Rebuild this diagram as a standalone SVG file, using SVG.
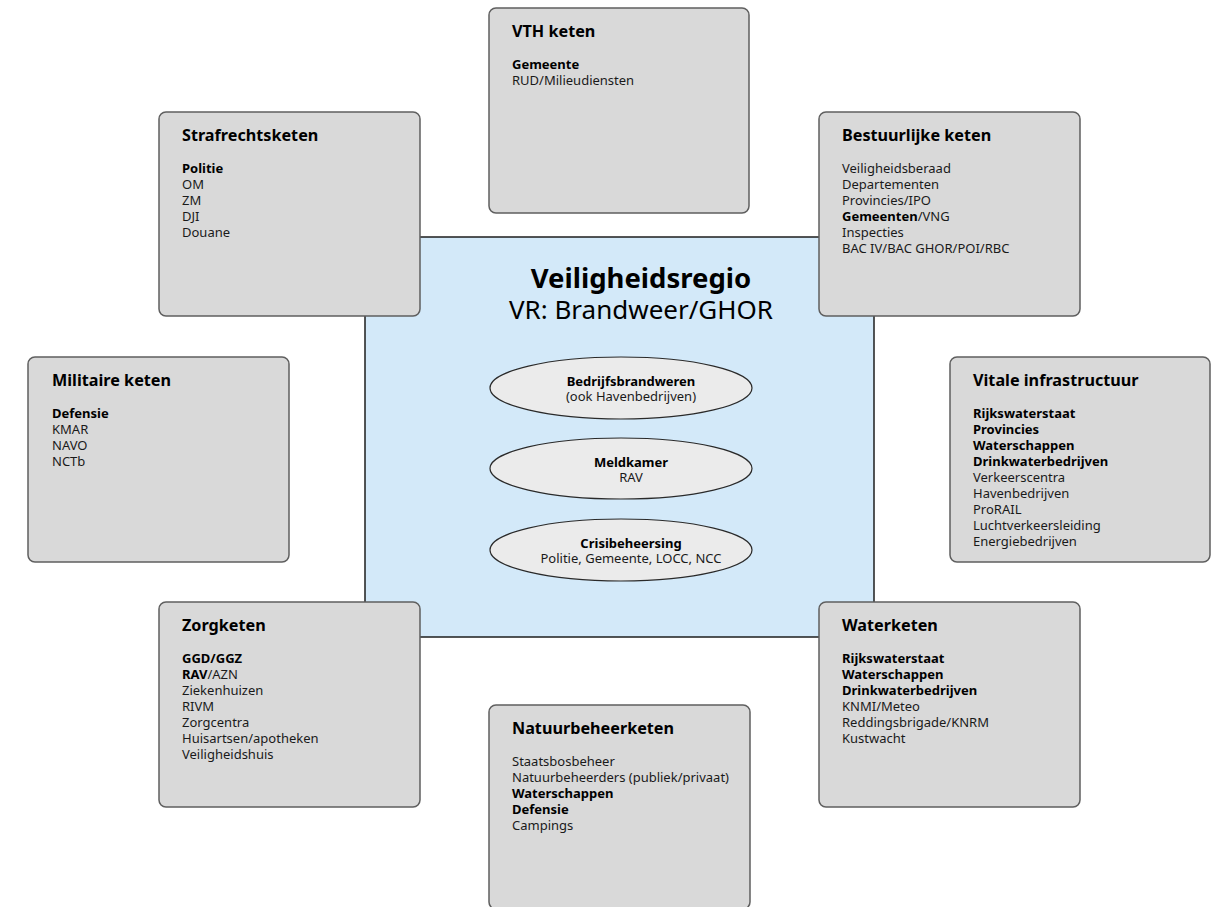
<svg xmlns="http://www.w3.org/2000/svg" width="1214" height="907" viewBox="0 0 1214 907">
<style>
.box{fill:#d9d9d9;stroke:#5f5f5f;stroke-width:1.5}
.center{fill:#d3e9f9;stroke:#1e1e1e;stroke-width:1.5}
.ell{fill:#ebebeb;stroke:#2a2a2a;stroke-width:1.2}
text{font-family:"Noto Sans","Open Sans","DejaVu Sans",sans-serif;fill:#1a1a1a}
.t{font-size:16.2px;font-weight:bold;fill:#000}
.i{font-size:13px}
.b{font-weight:bold;fill:#000}
.e{font-size:13px;text-anchor:middle}
.big{text-anchor:middle;fill:#000}
</style>
<rect width="1214" height="907" fill="#ffffff"/>
<g id="veiligheidsregio">
<rect class="center" x="365" y="237" width="509" height="400"/>
<text class="big" x="641" y="288" font-weight="bold" font-size="27.5">Veiligheidsregio</text>
<text class="big" x="641" y="319" font-size="26">VR: Brandweer/GHOR</text>
</g>
<g id="bedrijfsbrandweren">
<ellipse class="ell" cx="621" cy="388" rx="131" ry="31"/>
<text class="e" x="631" y="386"><tspan class="b">Bedrijfsbrandweren</tspan><tspan x="631" dy="15">(ook Havenbedrijven)</tspan></text>
</g>
<g id="meldkamer">
<ellipse class="ell" cx="621" cy="468.5" rx="131" ry="30.5"/>
<text class="e" x="631" y="467"><tspan class="b">Meldkamer</tspan><tspan x="631" dy="15">RAV</tspan></text>
</g>
<g id="crisisbeheersing">
<ellipse class="ell" cx="621" cy="550" rx="131" ry="31"/>
<text class="e" x="631" y="548"><tspan class="b">Crisibeheersing</tspan><tspan x="631" dy="15">Politie, Gemeente, LOCC, NCC</tspan></text>
</g>
<g id="connectors"></g>
<g id="vth">
<rect class="box" x="489" y="8" width="260" height="205" rx="7"/>
<text class="t" x="512" y="37">VTH keten</text>
<text class="i" x="512" y="69"><tspan class="b">Gemeente</tspan><tspan x="512" dy="16">RUD/Milieudiensten</tspan></text>
</g>
<g id="strafrecht">
<rect class="box" x="159" y="112" width="261" height="204" rx="7"/>
<text class="t" x="182" y="141">Strafrechtsketen</text>
<text class="i" x="182" y="173"><tspan class="b">Politie</tspan><tspan x="182" dy="16">OM</tspan><tspan x="182" dy="16">ZM</tspan><tspan x="182" dy="16">DJI</tspan><tspan x="182" dy="16">Douane</tspan></text>
</g>
<g id="bestuurlijk">
<rect class="box" x="819" y="112" width="261" height="204" rx="7"/>
<text class="t" x="842" y="141">Bestuurlijke keten</text>
<text class="i" x="842" y="173"><tspan>Veiligheidsberaad</tspan><tspan x="842" dy="16">Departementen</tspan><tspan x="842" dy="16">Provincies/IPO</tspan><tspan x="842" dy="16"><tspan class="b">Gemeenten</tspan>/VNG</tspan><tspan x="842" dy="16">Inspecties</tspan><tspan x="842" dy="16">BAC IV/BAC GHOR/POI/RBC</tspan></text>
</g>
<g id="militair">
<rect class="box" x="28" y="357" width="261" height="205" rx="7"/>
<text class="t" x="52" y="386">Militaire keten</text>
<text class="i" x="52" y="418"><tspan class="b">Defensie</tspan><tspan x="52" dy="16">KMAR</tspan><tspan x="52" dy="16">NAVO</tspan><tspan x="52" dy="16">NCTb</tspan></text>
</g>
<g id="vitaal">
<rect class="box" x="950" y="357" width="260" height="205" rx="7"/>
<text class="t" x="973" y="386">Vitale infrastructuur</text>
<text class="i" x="973" y="418"><tspan class="b">Rijkswaterstaat</tspan><tspan x="973" dy="16" class="b">Provincies</tspan><tspan x="973" dy="16" class="b">Waterschappen</tspan><tspan x="973" dy="16" class="b">Drinkwaterbedrijven</tspan><tspan x="973" dy="16">Verkeerscentra</tspan><tspan x="973" dy="16">Havenbedrijven</tspan><tspan x="973" dy="16">ProRAIL</tspan><tspan x="973" dy="16">Luchtverkeersleiding</tspan><tspan x="973" dy="16">Energiebedrijven</tspan></text>
</g>
<g id="zorg">
<rect class="box" x="159" y="602" width="261" height="205" rx="7"/>
<text class="t" x="182" y="631">Zorgketen</text>
<text class="i" x="182" y="663"><tspan class="b">GGD/GGZ</tspan><tspan x="182" dy="16"><tspan class="b">RAV</tspan>/AZN</tspan><tspan x="182" dy="16">Ziekenhuizen</tspan><tspan x="182" dy="16">RIVM</tspan><tspan x="182" dy="16">Zorgcentra</tspan><tspan x="182" dy="16">Huisartsen/apotheken</tspan><tspan x="182" dy="16">Veiligheidshuis</tspan></text>
</g>
<g id="water">
<rect class="box" x="819" y="602" width="261" height="205" rx="7"/>
<text class="t" x="842" y="631">Waterketen</text>
<text class="i" x="842" y="663"><tspan class="b">Rijkswaterstaat</tspan><tspan x="842" dy="16" class="b">Waterschappen</tspan><tspan x="842" dy="16" class="b">Drinkwaterbedrijven</tspan><tspan x="842" dy="16">KNMI/Meteo</tspan><tspan x="842" dy="16">Reddingsbrigade/KNRM</tspan><tspan x="842" dy="16">Kustwacht</tspan></text>
</g>
<g id="natuur">
<rect class="box" x="489" y="705" width="261" height="204" rx="7"/>
<text class="t" x="512" y="734">Natuurbeheerketen</text>
<text class="i" x="512" y="766"><tspan>Staatsbosbeheer</tspan><tspan x="512" dy="16">Natuurbeheerders (publiek/privaat)</tspan><tspan x="512" dy="16" class="b">Waterschappen</tspan><tspan x="512" dy="16" class="b">Defensie</tspan><tspan x="512" dy="16">Campings</tspan></text>
</g>
</svg>
